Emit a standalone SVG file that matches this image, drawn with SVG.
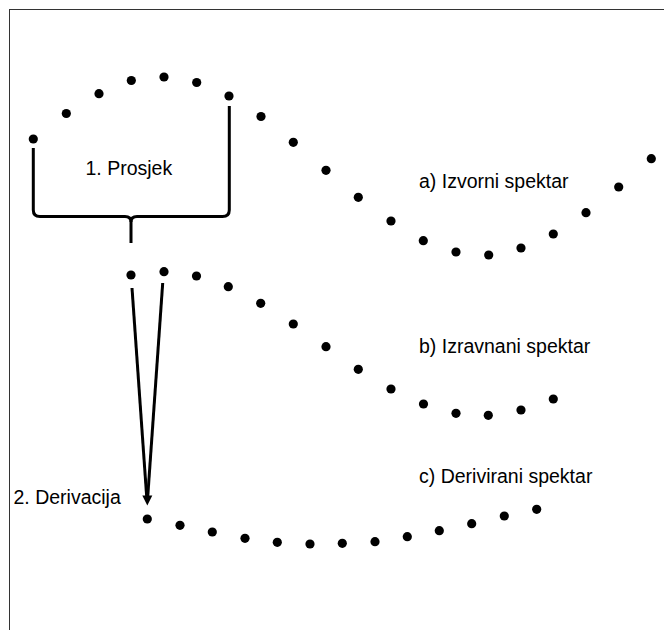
<svg xmlns="http://www.w3.org/2000/svg" width="664" height="630" viewBox="0 0 664 630">
<defs>
<style>
.dot{fill:#000}
.lbl{font-family:"Liberation Sans",Arial,sans-serif;font-size:19.5px;fill:#000}
.ln{fill:none;stroke:#000;stroke-width:3}
</style>
</defs>
<rect x="0" y="0" width="664" height="630" fill="#fff"/>
<rect x="9.5" y="9.5" width="700" height="700" fill="none" stroke="#333" stroke-width="1"/>
<g id="series-a">
<circle class="dot" cx="33.3" cy="139" r="4.6"/>
<circle class="dot" cx="66.3" cy="113.5" r="4.6"/>
<circle class="dot" cx="99" cy="93.7" r="4.6"/>
<circle class="dot" cx="131.3" cy="80.5" r="4.6"/>
<circle class="dot" cx="164" cy="77" r="4.6"/>
<circle class="dot" cx="196.7" cy="82.5" r="4.6"/>
<circle class="dot" cx="229" cy="96" r="4.6"/>
<circle class="dot" cx="261" cy="116.5" r="4.6"/>
<circle class="dot" cx="293.3" cy="142.3" r="4.6"/>
<circle class="dot" cx="326" cy="170.3" r="4.6"/>
<circle class="dot" cx="358.3" cy="197.3" r="4.6"/>
<circle class="dot" cx="391" cy="221" r="4.6"/>
<circle class="dot" cx="423.3" cy="240.7" r="4.6"/>
<circle class="dot" cx="456" cy="252" r="4.6"/>
<circle class="dot" cx="488.7" cy="255" r="4.6"/>
<circle class="dot" cx="521" cy="248" r="4.6"/>
<circle class="dot" cx="553.3" cy="234" r="4.6"/>
<circle class="dot" cx="586" cy="212.7" r="4.6"/>
<circle class="dot" cx="618.7" cy="187" r="4.6"/>
<circle class="dot" cx="651.3" cy="158.7" r="4.6"/>
<text class="lbl" x="419" y="188">a) Izvorni spektar</text>
</g>
<g id="series-b">
<circle class="dot" cx="131" cy="275" r="4.6"/>
<circle class="dot" cx="164" cy="271.7" r="4.6"/>
<circle class="dot" cx="196.5" cy="276" r="4.6"/>
<circle class="dot" cx="228.3" cy="286.7" r="4.6"/>
<circle class="dot" cx="260.7" cy="303.3" r="4.6"/>
<circle class="dot" cx="293.3" cy="324" r="4.6"/>
<circle class="dot" cx="326" cy="346.7" r="4.6"/>
<circle class="dot" cx="358.3" cy="369.3" r="4.6"/>
<circle class="dot" cx="391" cy="389" r="4.6"/>
<circle class="dot" cx="423.5" cy="404" r="4.6"/>
<circle class="dot" cx="456" cy="413.3" r="4.6"/>
<circle class="dot" cx="488.3" cy="415.3" r="4.6"/>
<circle class="dot" cx="521" cy="410" r="4.6"/>
<circle class="dot" cx="553.3" cy="399" r="4.6"/>
<text class="lbl" x="419" y="353">b) Izravnani spektar</text>
</g>
<g id="series-c">
<circle class="dot" cx="147.3" cy="519" r="4.6"/>
<circle class="dot" cx="180" cy="525.3" r="4.6"/>
<circle class="dot" cx="212.3" cy="532" r="4.6"/>
<circle class="dot" cx="245" cy="538.3" r="4.6"/>
<circle class="dot" cx="277.3" cy="542.3" r="4.6"/>
<circle class="dot" cx="310" cy="544" r="4.6"/>
<circle class="dot" cx="342.3" cy="543.3" r="4.6"/>
<circle class="dot" cx="375" cy="541.7" r="4.6"/>
<circle class="dot" cx="407.3" cy="536.7" r="4.6"/>
<circle class="dot" cx="439.3" cy="530.7" r="4.6"/>
<circle class="dot" cx="471.7" cy="523.7" r="4.6"/>
<circle class="dot" cx="504.3" cy="516" r="4.6"/>
<circle class="dot" cx="536.7" cy="509.3" r="4.6"/>
<text class="lbl" x="419" y="483">c) Derivirani spektar</text>
</g>
<g id="step-average">
<text class="lbl" x="85.5" y="175">1. Prosjek</text>
</g>
<g id="step-derivative">
<text class="lbl" x="13.5" y="504">2. Derivacija</text>
</g>
<g id="connectors">
<path class="ln" d="M33.3,148 V210 Q33.3,216.5 40,216.5 H125 Q131,216.5 131,222 V243"/>
<path class="ln" d="M131,222 Q131,216.5 137,216.5 H222.5 Q229.3,216.5 229.3,210 V106"/>
<path class="ln" d="M132,288 L146.7,497"/>
<path class="ln" d="M162.7,283 L147.7,497"/>
<path d="M142.3,495.5 L152.3,495.5 L147.3,505.5 Z" fill="#000"/>
</g>
</svg>
